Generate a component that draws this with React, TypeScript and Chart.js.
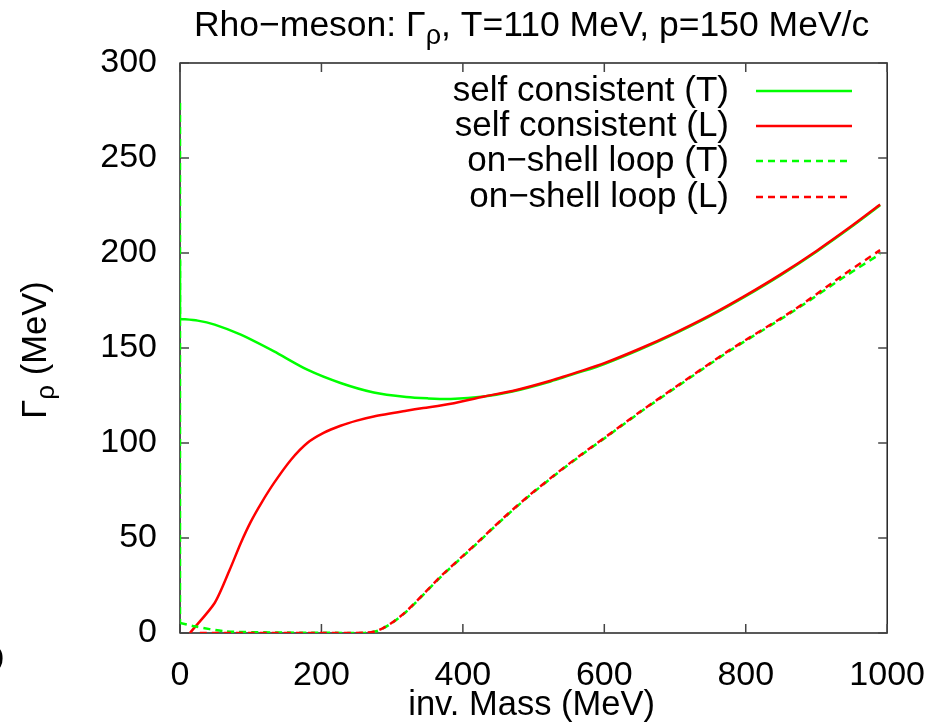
import React, { useEffect, useRef } from 'react';
import { Chart, registerables } from 'chart.js';

Chart.register(...registerables);

// ---- Data ----
const xTickValues = [0, 200, 400, 600, 800, 1000];
const yTickValues = [0, 50, 100, 150, 200, 250, 300];

// self consistent (T): vertical spike at m = 0, then the curve
const scTSpikeMass = [0, 0];
const scTSpikeWidth = [196, 165.3];
const scTMass = [0, 25, 49, 86, 133, 180, 227, 274, 320, 350, 383, 430, 470, 524, 570, 600, 650, 700, 750, 800, 850, 900, 950, 990];
const scTWidth = [165.3, 164.4, 162.3, 157, 148.2, 138.6, 131.6, 126.6, 124.2, 123.5, 123.2, 124.5, 127.1, 132.4, 137.8, 141.6, 149.2, 157.6, 166.9, 177.3, 188.5, 200.7, 213.9, 225.1];

// self consistent (L)
const scLMass = [14, 49, 70, 86, 100, 115, 133, 157, 180, 203, 227, 250, 274, 320, 344, 383, 430, 470, 524, 570, 600, 650, 700, 750, 800, 850, 900, 950, 990];
const scLWidth = [0, 15.8, 33, 47.4, 58.5, 68.4, 79, 91.2, 100, 105.3, 109.1, 111.8, 114, 117, 118.4, 120.7, 124.5, 127.4, 132.8, 138.2, 142, 149.6, 158, 167.3, 177.7, 188.9, 201.1, 214.3, 225.5];

// on-shell loop (T): vertical spike at m = 0, then the curve
const osTSpikeMass = [0, 0];
const osTSpikeWidth = [279, 5.3];
const osTMass = [0, 21, 63, 133, 200, 262, 280, 300, 320, 345, 370, 400, 423, 458, 493, 531, 568, 603, 650, 700, 776, 870, 940, 990];
const osTWidth = [5.3, 3.5, 0.9, 0.3, 0.1, 0.1, 1.2, 5.3, 11.2, 20.5, 30, 40.3, 48.2, 60.5, 71.9, 83.3, 93.8, 103.2, 116, 128.9, 148.2, 170, 187.6, 199.5];

// on-shell loop (L)
const osLMass = [28, 100, 200, 262, 280, 300, 320, 345, 370, 400, 423, 458, 493, 531, 568, 603, 650, 700, 776, 870, 940, 990];
const osLWidth = [0, 0, 0, 0.1, 1.3, 5.5, 11.4, 20.8, 30.3, 40.6, 48.5, 60.8, 72.2, 83.6, 94.1, 103.5, 116.3, 129.3, 148.6, 170.5, 189, 201.5];

const legendLabels = ['self consistent (T)', 'self consistent (L)', 'on\u2212shell loop (T)', 'on\u2212shell loop (L)'];
const GREEN = '#00ff00';
const RED = '#ff0000';

const FONT = "'Liberation Sans', Arial, Helvetica, sans-serif";
const FS = 34;

const pts = (xs: number[], ys: number[]) => xs.map((x, i) => ({ x, y: ys[i] }));

type Part = { text: string; sub?: boolean };

function drawRich(ctx: CanvasRenderingContext2D, parts: Part[], cx: number, baseY: number, size: number) {
  const subSize = Math.round(size * 0.75);
  let w = 0;
  for (const p of parts) {
    ctx.font = `${p.sub ? subSize : size}px ${FONT}`;
    w += ctx.measureText(p.text).width;
  }
  let x = cx - w / 2;
  ctx.textAlign = 'left';
  ctx.textBaseline = 'alphabetic';
  for (const p of parts) {
    ctx.font = `${p.sub ? subSize : size}px ${FONT}`;
    ctx.fillText(p.text, x, baseY + (p.sub ? 8 : 0));
    x += ctx.measureText(p.text).width;
  }
}

const overlay = {
  id: 'gnuplotOverlay',
  beforeDatasetsDraw(chart: any) {
    const { ctx, chartArea: a, scales } = chart;
    ctx.save();
    ctx.strokeStyle = '#000';
    ctx.lineWidth = 1.3;
    ctx.strokeRect(a.left, a.top, a.right - a.left, a.bottom - a.top);
    ctx.strokeStyle = '#444';
    ctx.lineWidth = 1.5;
    const L = 9;
    ctx.beginPath();
    for (const v of xTickValues) {
      const px = scales.x.getPixelForValue(v);
      ctx.moveTo(px, a.bottom);
      ctx.lineTo(px, a.bottom - L);
      ctx.moveTo(px, a.top);
      ctx.lineTo(px, a.top + L);
    }
    for (const v of yTickValues) {
      const py = scales.y.getPixelForValue(v);
      ctx.moveTo(a.left, py);
      ctx.lineTo(a.left + L, py);
      ctx.moveTo(a.right, py);
      ctx.lineTo(a.right - L, py);
    }
    ctx.stroke();
    ctx.restore();
  },
  afterDraw(chart: any) {
    const { ctx, chartArea: a } = chart;
    ctx.save();
    ctx.fillStyle = '#000';
    const cx = (a.left + a.right) / 2 - 2;

    // Title
    drawRich(ctx, [
      { text: 'Rho\u2212meson: \u0393' },
      { text: '\u03c1', sub: true },
      { text: ', T=110 MeV, p=150 MeV/c' },
    ], cx, 36, 35.5);

    // X axis title
    drawRich(ctx, [{ text: 'inv. Mass (MeV)' }], cx, 715, 34.5);

    // Y axis title (rotated)
    ctx.save();
    ctx.translate(46, 350);
    ctx.rotate(-Math.PI / 2);
    drawRich(ctx, [
      { text: '\u0393' },
      { text: '\u03c1', sub: true },
      { text: ' (MeV)' },
    ], 0, 0, 34.5);
    ctx.restore();

    // stray cut-off label at far left
    ctx.font = `${FS}px ${FONT}`;
    ctx.textAlign = 'right';
    ctx.textBaseline = 'middle';
    ctx.fillText('0', 4, 661);

    // Legend
    const rows = [91, 126, 161, 197];
    const colors = [GREEN, RED, GREEN, RED];
    const dashed = [false, false, true, true];
    for (let i = 0; i < 4; i++) {
      ctx.fillStyle = '#000';
      ctx.font = `35px ${FONT}`;
      ctx.textAlign = 'right';
      ctx.textBaseline = 'middle';
      ctx.fillText(legendLabels[i], 729, rows[i]);
      ctx.strokeStyle = colors[i];
      ctx.lineWidth = 2.5;
      ctx.setLineDash(dashed[i] ? [7, 5] : []);
      ctx.beginPath();
      ctx.moveTo(756, rows[i]);
      ctx.lineTo(852, rows[i]);
      ctx.stroke();
    }
    ctx.restore();
  },
};

export default function App() {
  const ref = useRef<HTMLCanvasElement>(null);

  useEffect(() => {
    const prevMargin = document.body.style.margin;
    document.body.style.margin = '0';
    const canvas = ref.current!;
    const common = { showLine: true, pointRadius: 0, borderWidth: 2.5, tension: 0.25 };
    const chart = new Chart(canvas, {
      type: 'scatter',
      data: {
        datasets: [
          { ...common, label: legendLabels[3], data: pts(osLMass, osLWidth), borderColor: RED, borderDash: [7, 5] },
          { ...common, label: legendLabels[2], data: pts(osTMass, osTWidth), borderColor: GREEN, borderDash: [7, 5] },
          { ...common, label: legendLabels[2] + ' spike', data: pts(osTSpikeMass, osTSpikeWidth), borderColor: GREEN, borderDash: [7, 5], tension: 0 },
          { ...common, label: legendLabels[1], data: pts(scLMass, scLWidth), borderColor: RED },
          { ...common, label: legendLabels[0], data: pts(scTMass, scTWidth), borderColor: GREEN },
          { ...common, label: legendLabels[0] + ' spike', data: pts(scTSpikeMass, scTSpikeWidth), borderColor: GREEN, tension: 0 },
        ],
      },
      options: {
        responsive: false,
        animation: false,
        devicePixelRatio: 1,
        layout: { padding: { top: 63, right: 54, left: 0, bottom: 0 } },
        plugins: {
          legend: { display: false },
          title: { display: false },
          tooltip: { enabled: false },
        },
        scales: {
          x: {
            type: 'linear',
            min: 0,
            max: 1000,
            afterFit: (s: any) => { s.height = 89; },
            afterBuildTicks: (s: any) => { s.ticks = xTickValues.map((v) => ({ value: v })); },
            grid: { display: false, drawTicks: false, tickLength: 0 },
            border: { display: false },
            ticks: { color: '#000', font: { family: FONT, size: FS }, padding: 22, maxRotation: 0, callback: (v: any) => String(v) },
          },
          y: {
            type: 'linear',
            min: 0,
            max: 300,
            afterFit: (s: any) => { s.width = 180; },
            afterBuildTicks: (s: any) => { s.ticks = yTickValues.map((v) => ({ value: v })); },
            grid: { display: false, drawTicks: false, tickLength: 0 },
            border: { display: false },
            ticks: { color: '#000', font: { family: FONT, size: FS }, padding: 23, callback: (v: any) => String(v) },
          },
        },
      },
      plugins: [overlay],
    } as any);
    return () => {
      chart.destroy();
      document.body.style.margin = prevMargin;
    };
  }, []);

  return (
    <div style={{ position: 'fixed', left: 0, top: 0, width: 947, height: 722, background: '#fff' }}>
      <canvas ref={ref} width={947} height={722} style={{ width: 947, height: 722, display: 'block' }} />
    </div>
  );
}
